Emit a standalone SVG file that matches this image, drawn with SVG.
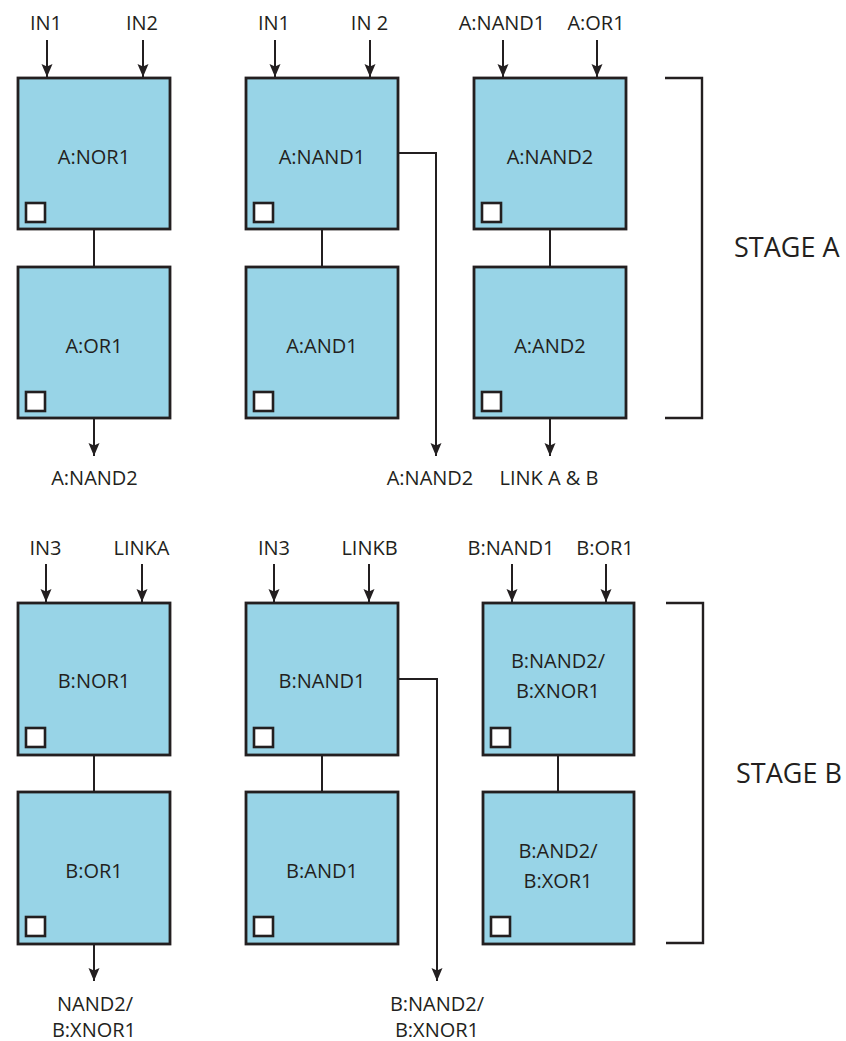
<svg xmlns="http://www.w3.org/2000/svg" width="846" height="1041" viewBox="0 0 846 1041">
<defs>
<style>
.box{fill:#98D4E7;stroke:#231F20;stroke-width:2.8}
.sq{fill:#FFFFFF;stroke:#231F20;stroke-width:2.6}
.t{font-family:"Open Sans","Noto Sans","Liberation Sans",sans-serif;font-size:20px;fill:#231F20;text-anchor:middle}
.stage{font-family:"Open Sans","Noto Sans","Liberation Sans",sans-serif;font-size:27px;fill:#231F20}
.ln{fill:none;stroke:#231F20;stroke-width:2}
.arr{fill:none;stroke:#231F20;stroke-width:2;marker-end:url(#ah)}
.br{fill:none;stroke:#231F20;stroke-width:2.4}
</style>
<marker id="ah" markerUnits="userSpaceOnUse" markerWidth="14" markerHeight="12" refX="13" refY="6" orient="auto" viewBox="0 0 14 12">
<path d="M0,0.5 L13,6 L0,11.5 L2.5,6 Z" fill="#231F20"/>
</marker>
</defs>
<rect width="846" height="1041" fill="#FFFFFF"/>

<g id="connectors">
<line class="arr" x1="47" y1="40" x2="47" y2="77"/>
<line class="arr" x1="143" y1="40" x2="143" y2="77"/>
<line class="arr" x1="275" y1="40" x2="275" y2="77"/>
<line class="arr" x1="370" y1="40" x2="370" y2="77"/>
<line class="arr" x1="503" y1="40" x2="503" y2="77"/>
<line class="arr" x1="597" y1="40" x2="597" y2="77"/>
<line class="ln" x1="94" y1="229" x2="94" y2="267"/>
<line class="ln" x1="322" y1="229" x2="322" y2="267"/>
<line class="ln" x1="550" y1="229" x2="550" y2="267"/>
<line class="arr" x1="94" y1="418" x2="94" y2="456"/>
<path class="arr" d="M398,153 H436 V456"/>
<line class="arr" x1="550" y1="418" x2="550" y2="456"/>
<line class="arr" x1="46" y1="564" x2="46" y2="602"/>
<line class="arr" x1="142" y1="564" x2="142" y2="602"/>
<line class="arr" x1="274" y1="564" x2="274" y2="602"/>
<line class="arr" x1="369" y1="564" x2="369" y2="602"/>
<line class="arr" x1="512" y1="564" x2="512" y2="602"/>
<line class="arr" x1="606" y1="564" x2="606" y2="602"/>
<line class="ln" x1="94" y1="755" x2="94" y2="792"/>
<line class="ln" x1="322" y1="755" x2="322" y2="792"/>
<line class="ln" x1="558" y1="755" x2="558" y2="792"/>
<line class="arr" x1="94" y1="944" x2="94" y2="981"/>
<path class="arr" d="M398,679 H437 V981"/>
</g>

<g id="brackets">
<path class="br" d="M665,78 H702 V418 H665"/>
<path class="br" d="M666,603 H703 V943 H666"/>
<text class="stage" x="734" y="257">STAGE A</text>
<text class="stage" x="736" y="783">STAGE B</text>
</g>

<g id="labels">
<text class="t" x="46" y="30">IN1</text>
<text class="t" x="142" y="30">IN2</text>
<text class="t" x="274" y="30">IN1</text>
<text class="t" x="369.5" y="30">IN 2</text>
<text class="t" x="502" y="30">A:NAND1</text>
<text class="t" x="596" y="30">A:OR1</text>
<text class="t" x="94.5" y="485">A:NAND2</text>
<text class="t" x="430" y="485">A:NAND2</text>
<text class="t" x="549" y="485">LINK A &amp; B</text>
<text class="t" x="45.5" y="555">IN3</text>
<text class="t" x="141.5" y="555">LINKA</text>
<text class="t" x="274" y="555">IN3</text>
<text class="t" x="369.5" y="555">LINKB</text>
<text class="t" x="511" y="555">B:NAND1</text>
<text class="t" x="605" y="555">B:OR1</text>
<text class="t" x="95" y="1011">NAND2/</text>
<text class="t" x="94" y="1037">B:XNOR1</text>
<text class="t" x="437" y="1011">B:NAND2/</text>
<text class="t" x="437" y="1037">B:XNOR1</text>
</g>

<g id="A_NOR1">
<rect class="box" x="18" y="78" width="152" height="151"/>
<rect class="sq" x="26" y="203" width="19" height="19"/>
<text class="t" x="94" y="164">A:NOR1</text>
</g>
<g id="A_OR1">
<rect class="box" x="18" y="267" width="152" height="151"/>
<rect class="sq" x="26" y="392" width="19" height="19"/>
<text class="t" x="94" y="353">A:OR1</text>
</g>
<g id="A_NAND1">
<rect class="box" x="246" y="78" width="152" height="151"/>
<rect class="sq" x="254" y="203" width="19" height="19"/>
<text class="t" x="322" y="164">A:NAND1</text>
</g>
<g id="A_AND1">
<rect class="box" x="246" y="267" width="152" height="151"/>
<rect class="sq" x="254" y="392" width="19" height="19"/>
<text class="t" x="322" y="353">A:AND1</text>
</g>
<g id="A_NAND2">
<rect class="box" x="474" y="78" width="152" height="151"/>
<rect class="sq" x="482" y="203" width="19" height="19"/>
<text class="t" x="550" y="164">A:NAND2</text>
</g>
<g id="A_AND2">
<rect class="box" x="474" y="267" width="152" height="151"/>
<rect class="sq" x="482" y="392" width="19" height="19"/>
<text class="t" x="550" y="353">A:AND2</text>
</g>

<g id="B_NOR1">
<rect class="box" x="18" y="603" width="152" height="152"/>
<rect class="sq" x="26" y="728" width="19" height="19"/>
<text class="t" x="94" y="688">B:NOR1</text>
</g>
<g id="B_OR1">
<rect class="box" x="18" y="792" width="152" height="152"/>
<rect class="sq" x="26" y="917" width="19" height="19"/>
<text class="t" x="94" y="878">B:OR1</text>
</g>
<g id="B_NAND1">
<rect class="box" x="246" y="603" width="152" height="152"/>
<rect class="sq" x="254" y="728" width="19" height="19"/>
<text class="t" x="322" y="688">B:NAND1</text>
</g>
<g id="B_AND1">
<rect class="box" x="246" y="792" width="152" height="152"/>
<rect class="sq" x="254" y="917" width="19" height="19"/>
<text class="t" x="322" y="878">B:AND1</text>
</g>
<g id="B_NAND2_XNOR1">
<rect class="box" x="483" y="603" width="151" height="152"/>
<rect class="sq" x="491" y="728" width="19" height="19"/>
<text class="t" x="558" y="668">B:NAND2/</text>
<text class="t" x="558" y="698">B:XNOR1</text>
</g>
<g id="B_AND2_XOR1">
<rect class="box" x="483" y="792" width="151" height="152"/>
<rect class="sq" x="491" y="917" width="19" height="19"/>
<text class="t" x="558" y="858">B:AND2/</text>
<text class="t" x="558" y="888">B:XOR1</text>
</g>
</svg>
